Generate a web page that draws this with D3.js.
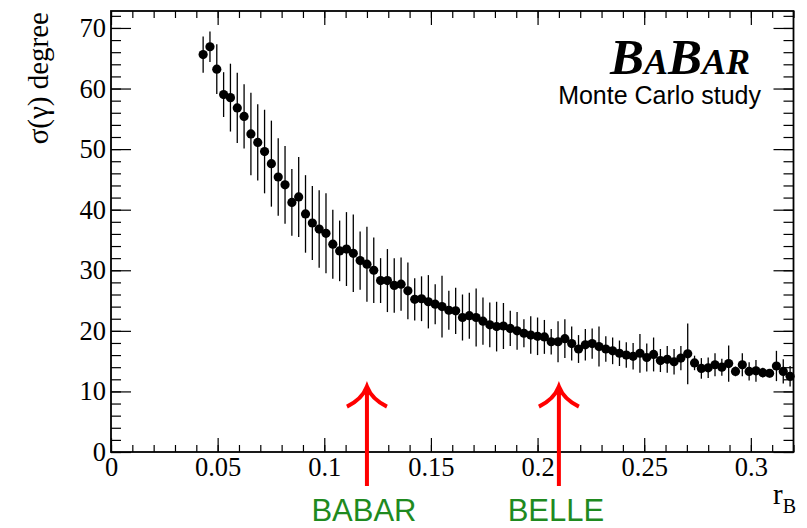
<!DOCTYPE html>
<html>
<head>
<meta charset="utf-8">
<script src="https://cdn.jsdelivr.net/npm/d3@7"></script>
<style>
  body { margin: 0; background: #fff; }
  svg { display: block; }
</style>
</head>
<body>
<svg id="chart" width="807" height="528"></svg>
<script>
// Bin centres in r_B (100 bins over 0..0.32, filled bins only)
const rB = [
  0.0432, 0.0464, 0.0496, 0.0528, 0.0560, 0.0592, 0.0624, 0.0656, 0.0688, 0.0720,
  0.0752, 0.0784, 0.0816, 0.0848, 0.0880, 0.0912, 0.0944, 0.0976, 0.1008, 0.1040,
  0.1072, 0.1104, 0.1136, 0.1168, 0.1200, 0.1232, 0.1264, 0.1296, 0.1328, 0.1360,
  0.1392, 0.1424, 0.1456, 0.1488, 0.1520, 0.1552, 0.1584, 0.1616, 0.1648, 0.1680,
  0.1712, 0.1744, 0.1776, 0.1808, 0.1840, 0.1872, 0.1904, 0.1936, 0.1968, 0.2000,
  0.2032, 0.2064, 0.2096, 0.2128, 0.2160, 0.2192, 0.2224, 0.2256, 0.2288, 0.2320,
  0.2352, 0.2384, 0.2416, 0.2448, 0.2480, 0.2512, 0.2544, 0.2576, 0.2608, 0.2640,
  0.2672, 0.2704, 0.2736, 0.2768, 0.2800, 0.2832, 0.2864, 0.2896, 0.2928, 0.2960,
  0.2992, 0.3024, 0.3056, 0.3088, 0.3120, 0.3152, 0.3184
];

// Resolution sigma(gamma) in degrees per bin
const sigmaGamma = [
  65.6, 66.9, 63.2, 59.0, 58.5, 56.8, 55.4, 52.5, 51.1, 49.6,
  47.6, 45.4, 44.1, 41.2, 42.1, 39.3, 37.8, 36.8, 36.1, 34.3,
  33.2, 33.5, 32.8, 31.6, 31.0, 30.0, 28.3, 28.3, 27.5, 27.7,
  26.6, 25.2, 25.3, 24.8, 24.4, 24.0, 23.4, 23.3, 22.2, 22.5,
  22.2, 21.6, 21.0, 20.7, 20.8, 20.4, 20.0, 19.6, 19.3, 19.1,
  19.0, 18.2, 18.2, 18.7, 17.9, 17.0, 17.7, 17.9, 17.4, 17.0,
  16.7, 16.3, 16.0, 15.8, 16.3, 15.6, 16.1, 15.1, 15.3, 14.9,
  15.5, 16.2, 14.7, 13.8, 13.9, 14.4, 14.0, 14.6, 13.3, 14.4,
  13.3, 13.4, 13.1, 13.0, 14.2, 13.3, 12.5
];

// Spread of sigma(gamma) per bin (error bar half-length)
const sigmaGammaErr = [
  3.0, 2.5, 4.1, 3.7, 5.6, 5.8, 5.3, 6.8, 6.3, 6.9,
  7.1, 6.4, 6.4, 5.5, 6.6, 6.4, 6.1, 6.4, 6.6, 5.7,
  5.0, 6.1, 6.4, 4.8, 6.2, 5.4, 3.7, 5.2, 4.5, 4.4,
  4.7, 3.5, 3.7, 4.4, 3.3, 5.1, 3.2, 3.8, 3.8, 3.8,
  4.8, 3.9, 3.7, 4.1, 3.8, 2.9, 3.1, 2.3, 3.1, 3.1,
  2.8, 2.1, 3.4, 3.2, 2.8, 2.3, 2.6, 2.5, 3.3, 2.1,
  2.2, 2.1, 2.1, 2.2, 3.2, 2.3, 2.8, 1.9, 2.2, 2.1,
  2.0, 5.0, 1.2, 1.7, 1.7, 1.9, 1.4, 3.0, 0.8, 1.9,
  1.5, 1.8, 0.8, 0.7, 2.5, 2.0, 1.7
];

const xMajorTicks = [0, 0.05, 0.1, 0.15, 0.2, 0.25, 0.3];
const xTickLabels = ["0", "0.05", "0.1", "0.15", "0.2", "0.25", "0.3"];
const yMajorTicks = [0, 10, 20, 30, 40, 50, 60, 70];
const yTickLabels = ["0", "10", "20", "30", "40", "50", "60", "70"];

// Measured central values of r_B from the two experiments
const experiments = ["BABAR", "BELLE"];
const experimentRB = [0.12, 0.21];

const svg = d3.select("#chart");

const x = d3.scaleLinear().domain([0, 0.32]).range([111, 793.5]);
const y = d3.scaleLinear().domain([0, 72.8]).range([452, 11]);

const serif = '"Liberation Serif", "Times New Roman", serif';
const sans = '"Liberation Sans", Arial, sans-serif';

const xMinor = d3.range(0, 0.3201, 0.01);
const yMinor = d3.range(0, 72.01, 2);

function styleAxis(g) {
  g.select(".domain").remove();
  g.selectAll(".tick line").attr("stroke", "#000").attr("stroke-width", 1.2);
  g.selectAll(".tick text").attr("fill", "#000").attr("font-size", 26.5).attr("font-family", serif);
}

// bottom axis: major ticks with labels, minor ticks without
svg.append("g").attr("transform", "translate(0,452)")
  .call(d3.axisBottom(x).tickValues(xMinor).tickSize(-7).tickFormat(""))
  .call(styleAxis);
svg.append("g").attr("transform", "translate(0,452)")
  .call(d3.axisBottom(x).tickValues(xMajorTicks).tickSize(-14).tickPadding(5)
    .tickFormat((d, i) => xTickLabels[i]))
  .call(styleAxis);

// top axis (ticks only)
svg.append("g").attr("transform", "translate(0,11)")
  .call(d3.axisTop(x).tickValues(xMinor).tickSize(-7).tickFormat(""))
  .call(styleAxis);
svg.append("g").attr("transform", "translate(0,11)")
  .call(d3.axisTop(x).tickValues(xMajorTicks).tickSize(-14).tickFormat(""))
  .call(styleAxis);

// left axis
svg.append("g").attr("transform", "translate(111,0)")
  .call(d3.axisLeft(y).tickValues(yMinor).tickSize(-10).tickFormat(""))
  .call(styleAxis);
svg.append("g").attr("transform", "translate(111,0)")
  .call(d3.axisLeft(y).tickValues(yMajorTicks).tickSize(-20).tickPadding(5)
    .tickFormat((d, i) => yTickLabels[i]))
  .call(styleAxis);

// right axis (ticks only)
svg.append("g").attr("transform", "translate(793.5,0)")
  .call(d3.axisRight(y).tickValues(yMinor).tickSize(-10).tickFormat(""))
  .call(styleAxis);
svg.append("g").attr("transform", "translate(793.5,0)")
  .call(d3.axisRight(y).tickValues(yMajorTicks).tickSize(-20).tickFormat(""))
  .call(styleAxis);

// frame
svg.append("rect")
  .attr("x", x(0)).attr("y", y(72.8))
  .attr("width", x(0.32) - x(0)).attr("height", y(0) - y(72.8))
  .attr("fill", "none").attr("stroke", "#000").attr("stroke-width", 1.8);

// data: error bars and markers
const points = rB.map((r, i) => ({ r, v: sigmaGamma[i], e: sigmaGammaErr[i] }));

svg.append("g").selectAll("line").data(points).join("line")
  .attr("x1", d => x(d.r)).attr("x2", d => x(d.r))
  .attr("y1", d => y(d.v - d.e)).attr("y2", d => y(d.v + d.e))
  .attr("stroke", "#000").attr("stroke-width", 1.3);

svg.append("g").selectAll("circle").data(points).join("circle")
  .attr("cx", d => x(d.r)).attr("cy", d => y(d.v)).attr("r", 4.6)
  .attr("fill", "#000");

// arrows marking the measured r_B values
const arrowTop = 10.8, arrowBottom = -5.6;
const arrows = svg.append("g");
experiments.forEach((name, i) => {
  const ax = x(experimentRB[i]);
  const ty = y(arrowTop);
  arrows.append("path")
    .attr("d", `M${ax},${y(arrowBottom)} L${ax},${ty}
                M${ax - 20},${ty + 20} Q${ax - 5},${ty + 13} ${ax},${ty}
                Q${ax + 5},${ty + 13} ${ax + 20},${ty + 20}`)
    .attr("fill", "none").attr("stroke", "#ff0000").attr("stroke-width", 4);
  arrows.append("text")
    .attr("x", ax - 3).attr("y", 521)
    .attr("text-anchor", "middle")
    .attr("font-family", sans).attr("font-size", 31)
    .attr("fill", "#1f8a1f")
    .text(name);
});

// axis titles
const xt = svg.append("text")
  .attr("x", 796).attr("y", 504).attr("text-anchor", "end")
  .attr("font-family", serif).attr("font-size", 29).attr("fill", "#000");
xt.append("tspan").text("r");
xt.append("tspan").attr("font-size", 20).attr("dy", 9).text("B");

svg.append("text")
  .attr("transform", "translate(48,12) rotate(-90)")
  .attr("text-anchor", "end")
  .attr("font-family", serif).attr("font-size", 29).attr("fill", "#000")
  .text("σ(γ) degree");

// experiment logo and caption
const logo = svg.append("text")
  .attr("x", 750).attr("y", 74).attr("text-anchor", "end")
  .attr("font-family", serif).attr("font-weight", "bold").attr("font-style", "italic")
  .attr("fill", "#000");
logo.append("tspan").attr("font-size", 51).text("B");
logo.append("tspan").attr("font-size", 36).text("A");
logo.append("tspan").attr("font-size", 51).text("B");
logo.append("tspan").attr("font-size", 36).text("AR");

svg.append("text")
  .attr("x", 761).attr("y", 104).attr("text-anchor", "end")
  .attr("font-family", sans).attr("font-size", 25).attr("fill", "#000")
  .text("Monte Carlo study");
</script>
</body>
</html>
